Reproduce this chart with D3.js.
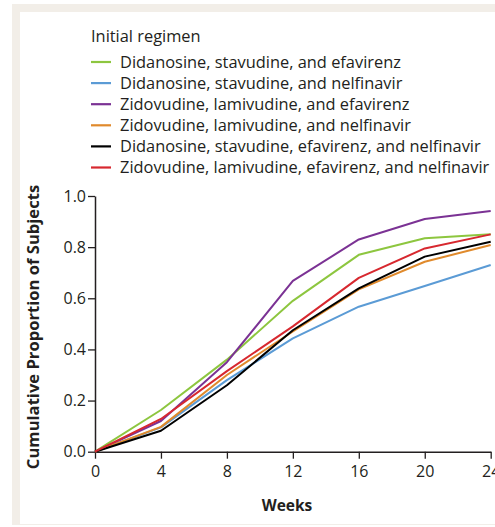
<!DOCTYPE html>
<html>
<head>
<meta charset="utf-8">
<script src="https://cdn.jsdelivr.net/npm/d3@7"></script>
<style>
  body { margin: 0; background: #fff; }
  svg { display: block; font-family: "Open Sans", sans-serif; }
</style>
</head>
<body>
<div id="chart"></div>
<script>
const weeks = [0, 4, 8, 12, 16, 20, 24];
const regimens = [
  'Didanosine, stavudine, and efavirenz',
  'Didanosine, stavudine, and nelfinavir',
  'Zidovudine, lamivudine, and efavirenz',
  'Zidovudine, lamivudine, and nelfinavir',
  'Didanosine, stavudine, efavirenz, and nelfinavir',
  'Zidovudine, lamivudine, efavirenz, and nelfinavir'
];
const colors = ['#8dc63f', '#5b9bd5', '#7b3294', '#e08a2c', '#000000', '#d7282f'];
const values = [
  [0, 0.163, 0.36, 0.59, 0.77, 0.835, 0.85],
  [0, 0.095, 0.28, 0.443, 0.567, 0.648, 0.73],
  [0, 0.12, 0.35, 0.668, 0.83, 0.91, 0.941],
  [0, 0.097, 0.30, 0.47, 0.635, 0.743, 0.808],
  [0, 0.082, 0.26, 0.475, 0.639, 0.763, 0.821],
  [0, 0.128, 0.315, 0.49, 0.68, 0.795, 0.85]
];
const yTicks = [0, 0.2, 0.4, 0.6, 0.8, 1.0];

const width = 495, height = 527;
const font = '"Open Sans", sans-serif';
const fs = 16.4;
const svg = d3.select('#chart').append('svg')
  .attr('width', width).attr('height', height);

// frame
svg.append('rect').attr('x', 12).attr('y', 4).attr('width', width).attr('height', 521)
  .attr('fill', '#f2eee8');
svg.append('rect').attr('x', 20).attr('y', 12).attr('width', width).attr('height', 512)
  .attr('fill', '#ffffff');

const x = d3.scaleLinear().domain([0, 24]).range([95, 490.7]);
const y = d3.scaleLinear().domain([0, 1]).range([451.7, 196]);

// legend
svg.append('text').attr('x', 91).attr('y', 41.5)
  .attr('font-size', fs).attr('fill', '#231f20').text('Initial regimen');
const leg = svg.append('g');
regimens.forEach((r, i) => {
  const cy = 62 + i * 21.1;
  leg.append('line').attr('x1', 91).attr('x2', 111).attr('y1', cy).attr('y2', cy)
    .attr('stroke', colors[i]).attr('stroke-width', 2.2);
  leg.append('text').attr('x', 120).attr('y', cy + 5.8)
    .attr('font-size', fs).attr('fill', '#231f20').text(r);
});

// axes
const axisColor = '#231f20';
const yAxis = svg.append('g').attr('transform', 'translate(95,0)')
  .call(d3.axisLeft(y).tickValues(yTicks).tickFormat(d3.format('.1f')).tickSize(7).tickSizeOuter(0));
const xAxis = svg.append('g').attr('transform', 'translate(0,451.7)')
  .call(d3.axisBottom(x).tickValues(weeks).tickSize(7).tickSizeOuter(0));
[xAxis, yAxis].forEach(a => {
  a.select('.domain').attr('stroke', axisColor).attr('stroke-width', 1.5);
  a.selectAll('.tick line').attr('stroke', axisColor).attr('stroke-width', 1.3);
  a.selectAll('.tick text').attr('fill', axisColor).attr('font-size', 16)
    .attr('font-family', font);
});
xAxis.selectAll('.tick text').attr('dy', '0.95em');
yAxis.selectAll('.tick text').attr('x', -9);

// lines
const line = d3.line().x((d, i) => x(weeks[i])).y(d => y(d));
values.forEach((v, i) => {
  svg.append('path').datum(v).attr('d', line)
    .attr('fill', 'none').attr('stroke', colors[i]).attr('stroke-width', 2)
    .attr('stroke-linejoin', 'round');
});

// axis titles
svg.append('text').attr('transform', 'translate(39,327) rotate(-90)')
  .attr('text-anchor', 'middle').attr('font-size', 16.6).attr('font-weight', 'bold')
  .attr('fill', axisColor).text('Cumulative Proportion of Subjects');
svg.append('text').attr('x', 287).attr('y', 511)
  .attr('text-anchor', 'middle').attr('font-size', 15.5).attr('font-weight', 'bold')
  .attr('fill', axisColor).text('Weeks');
</script>
</body>
</html>
